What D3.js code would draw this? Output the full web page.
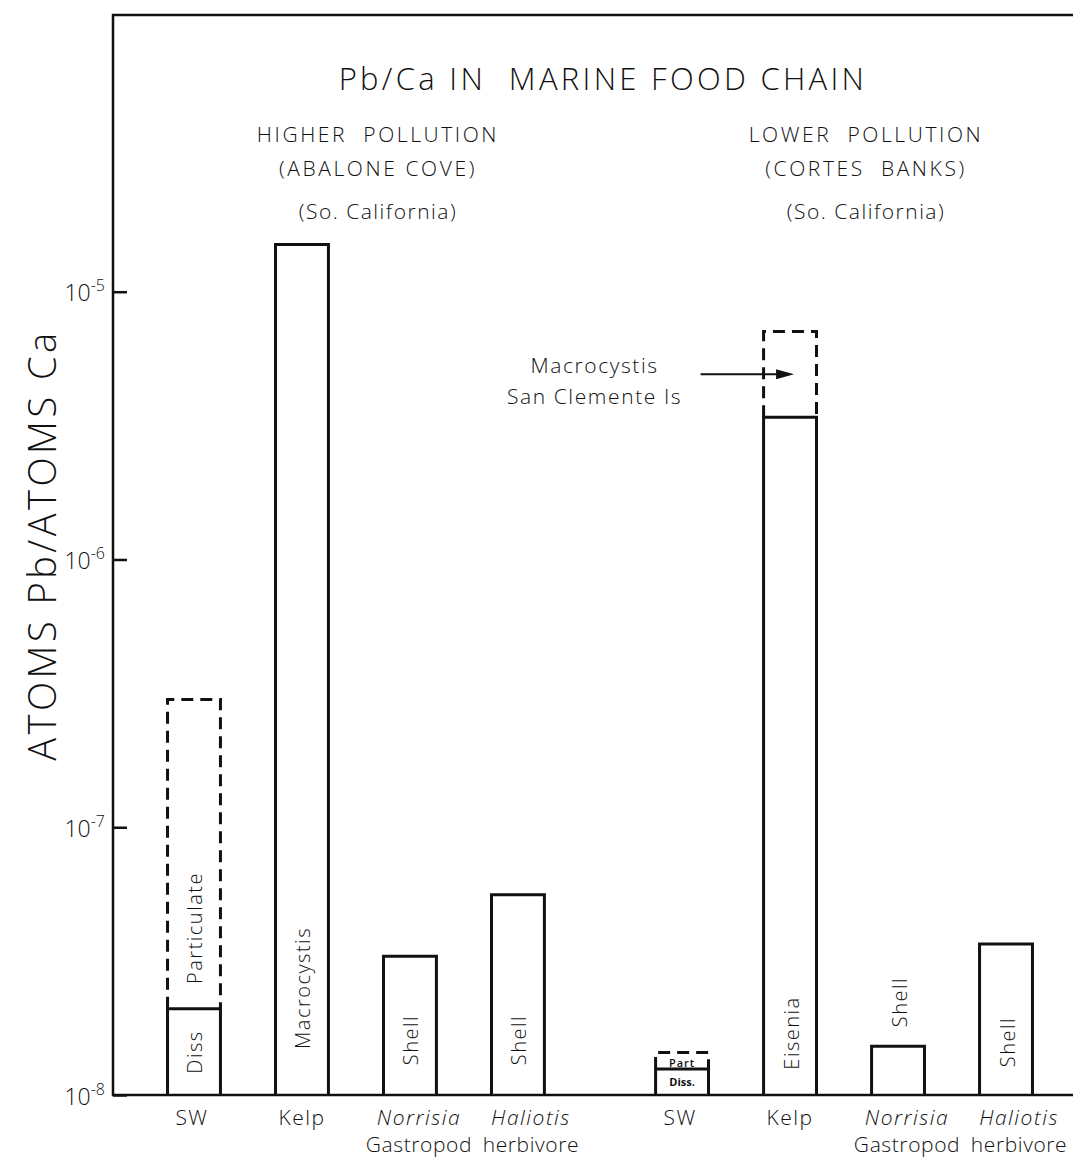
<!DOCTYPE html>
<html>
<head>
<meta charset="utf-8">
<script src="https://cdn.jsdelivr.net/npm/d3@7"></script>
<style>
  html, body { margin: 0; padding: 0; background: #fff; }
  svg { display: block; }
  text { font-family: "Open Sans", "DejaVu Sans", sans-serif; font-weight: 300; fill: #111; white-space: pre; }
</style>
</head>
<body>
<svg id="chart" width="1073" height="1161"></svg>
<script>
// Pb/Ca atom ratios along the marine food chain at two southern California sites
const title = "Pb/Ca IN  MARINE FOOD CHAIN";
const groupNames = ["HIGHER  POLLUTION", "LOWER  POLLUTION"];
const groupSites = ["(ABALONE COVE)", "(CORTES  BANKS)"];
const groupRegions = ["(So. California)", "(So. California)"];

const categories = ["SW", "Kelp", "Norrisia", "Haliotis"];
const categorySubLabels = ["", "", "Gastropod", "herbivore"];
const categoryItalic = [false, false, true, true];

// solid bars: dissolved SW, kelp, shells
const higherValues = [2.1e-8, 1.5e-5, 3.3e-8, 5.6e-8];
const lowerValues = [1.25e-8, 3.4e-6, 1.52e-8, 3.66e-8];
// dashed extensions: particulate SW, Macrocystis from San Clemente Is
const higherDashed = [3.0e-7, null, null, null];
const lowerDashed = [1.44e-8, 7.1e-6, null, null];

const higherBarLabels = ["Diss", "Macrocystis", "Shell", "Shell"];
const lowerBarLabels = ["Diss.", "Eisenia", "Shell", "Shell"];
const higherDashedLabels = ["Particulate", null, null, null];
const lowerDashedLabels = ["Part", null, null, null];

const annotationLines = ["Macrocystis", "San Clemente Is"];

const yTicks = [1e-8, 1e-7, 1e-6, 1e-5];
const yTickExponents = ["-8", "-7", "-6", "-5"];
const yLabel = "ATOMS Pb/ATOMS Ca";

// ---- layout ----
const svg = d3.select("#chart");
const plot = { left: 113, top: 15, right: 1080, bottom: 1095 };

const y = d3.scaleLog().domain([1e-8, 1.08e-4]).range([plot.bottom, plot.top]);

const xGroup = d3.scaleBand().domain([0, 1]).range([140, 1060]).paddingInner(0.115).paddingOuter(0);
const xCat = d3.scaleBand().domain(categories).range([0, xGroup.bandwidth()])
  .paddingInner(0.51).paddingOuter(0.255);

const series = [
  { values: higherValues, dashed: higherDashed, labels: higherBarLabels, dashedLabels: higherDashedLabels },
  { values: lowerValues, dashed: lowerDashed, labels: lowerBarLabels, dashedLabels: lowerDashedLabels }
];

const ink = "#111";
const stroke = 3;

// frame (top and left), bottom axis line
svg.append("path")
  .attr("d", `M${plot.right},${plot.top}H${plot.left}V${plot.bottom}H${plot.right}`)
  .attr("fill", "none").attr("stroke", ink).attr("stroke-width", 2.5);

// y axis with inward ticks
const yAxis = d3.axisRight(y).tickValues(yTicks).tickSize(14).tickFormat(() => "");
const yAxisG = svg.append("g").attr("transform", `translate(${plot.left},0)`).call(yAxis);
yAxisG.select(".domain").remove();
yAxisG.selectAll(".tick line").attr("stroke", ink).attr("stroke-width", 2.5);
yAxisG.selectAll(".tick").each(function(d, i) {
  const t = d3.select(this).append("text")
    .attr("x", -8).attr("y", 9).attr("text-anchor", "end")
    .style("font-size", "23px");
  t.append("tspan").text("10");
  t.append("tspan").attr("dy", -10).style("font-size", "16px").text(yTickExponents[i]);
});

// y axis title
svg.append("text")
  .attr("transform", `translate(56,${545}) rotate(-90)`)
  .attr("text-anchor", "middle")
  .style("font-size", "38px").style("letter-spacing", "3.5px")
  .text(yLabel);

// title and group headings
svg.append("text").attr("x", 603).attr("y", 90).attr("text-anchor", "middle")
  .style("font-size", "31px").style("letter-spacing", "3.3px").text(title);

series.forEach((s, gi) => {
  const cx = xGroup(gi) + xGroup.bandwidth() / 2 + 22;
  const lines = [groupNames[gi], groupSites[gi], groupRegions[gi]];
  const ys = [142, 176, 219];
  const spacing = ["2.6px", "2.6px", "1.5px"];
  lines.forEach((ln, li) => {
    svg.append("text").attr("x", cx).attr("y", ys[li]).attr("text-anchor", "middle")
      .style("font-size", "21px").style("letter-spacing", spacing[li]).text(ln);
  });
});

// bars
const inBarLabelCenter = [ [1052, 988, 1040, 1040], [1082, 1033, 1002, 1042] ];
const categoryLabelShift = [-2, 0, 9, 13];

series.forEach((s, gi) => {
  const g = svg.append("g").attr("transform", `translate(${xGroup(gi)},0)`);
  categories.forEach((c, ci) => {
    const x0 = xCat(c), w = xCat.bandwidth(), xc = x0 + w / 2;
    const v = s.values[ci];
    // dashed extension drawn above the solid bar
    if (s.dashed[ci] != null) {
      const yt = y(s.dashed[ci]), yb = y(v);
      g.append("path")
        .attr("d", `M${x0},${yb}V${yt}H${x0 + w}V${yb}`)
        .attr("fill", "none").attr("stroke", ink).attr("stroke-width", stroke)
        .attr("stroke-dasharray", "12,7");
    }
    g.append("path")
      .attr("d", `M${x0},${y(1e-8)}V${y(v)}H${x0 + w}V${y(1e-8)}`)
      .attr("fill", "none").attr("stroke", ink).attr("stroke-width", stroke);

    const lab = s.labels[ci];
    if (gi === 1 && ci === 0) {
      // short seawater bar: tiny horizontal labels
      g.append("text").attr("x", xc).attr("y", (y(v) + y(1e-8)) / 2 + 4)
        .attr("text-anchor", "middle").style("font-size", "11px").style("font-weight", 700).text(lab);
      g.append("text").attr("x", xc).attr("y", (y(v) + y(s.dashed[ci])) / 2 + 6)
        .attr("text-anchor", "middle").style("font-size", "11px").style("font-weight", 600)
        .style("letter-spacing", "1px").text(s.dashedLabels[ci]);
    } else {
      g.append("text")
        .attr("transform", `translate(${xc + 1},${inBarLabelCenter[gi][ci]}) rotate(-90)`)
        .attr("text-anchor", "middle").attr("dominant-baseline", "central")
        .style("font-size", "20px").style("letter-spacing", "1.5px").text(lab);
      if (s.dashedLabels[ci]) {
        g.append("text")
          .attr("transform", `translate(${xc + 1},${928}) rotate(-90)`)
          .attr("text-anchor", "middle").attr("dominant-baseline", "central")
          .style("font-size", "20px").style("letter-spacing", "1.5px").text(s.dashedLabels[ci]);
      }
    }

    // category labels under the axis
    const lx = xc + categoryLabelShift[ci];
    const lt = g.append("text").attr("x", lx).attr("y", 1125).attr("text-anchor", "middle")
      .style("font-size", "21px").style("letter-spacing", "1.5px").text(c);
    if (categoryItalic[ci]) lt.style("font-style", "italic");
    if (categorySubLabels[ci]) {
      g.append("text").attr("x", lx).attr("y", 1152).attr("text-anchor", "middle")
        .style("font-size", "21px").style("letter-spacing", "0.6px").text(categorySubLabels[ci]);
    }
  });
});

// annotation pointing at the dashed Macrocystis bar
{
  const gi = 1, c = "Kelp";
  const x0 = xGroup(gi) + xCat(c);
  const xc = x0 + xCat.bandwidth() / 2;
  const ya = Math.sqrt(lowerValues[1] * lowerDashed[1]);
  const ay = y(ya);
  const tx = x0 - 169;
  svg.append("text").attr("x", tx).attr("y", ay - 1).attr("text-anchor", "middle")
    .style("font-size", "21px").style("letter-spacing", "1.6px").text(annotationLines[0]);
  svg.append("text").attr("x", tx).attr("y", ay + 30).attr("text-anchor", "middle")
    .style("font-size", "21px").style("letter-spacing", "1.6px").text(annotationLines[1]);
  svg.append("line").attr("x1", x0 - 63).attr("x2", xc - 10).attr("y1", ay).attr("y2", ay)
    .attr("stroke", ink).attr("stroke-width", 2);
  svg.append("path")
    .attr("d", `M${xc - 14},${ay - 5}L${xc + 4},${ay}L${xc - 14},${ay + 5}Z`)
    .attr("fill", ink);
}
</script>
</body>
</html>
